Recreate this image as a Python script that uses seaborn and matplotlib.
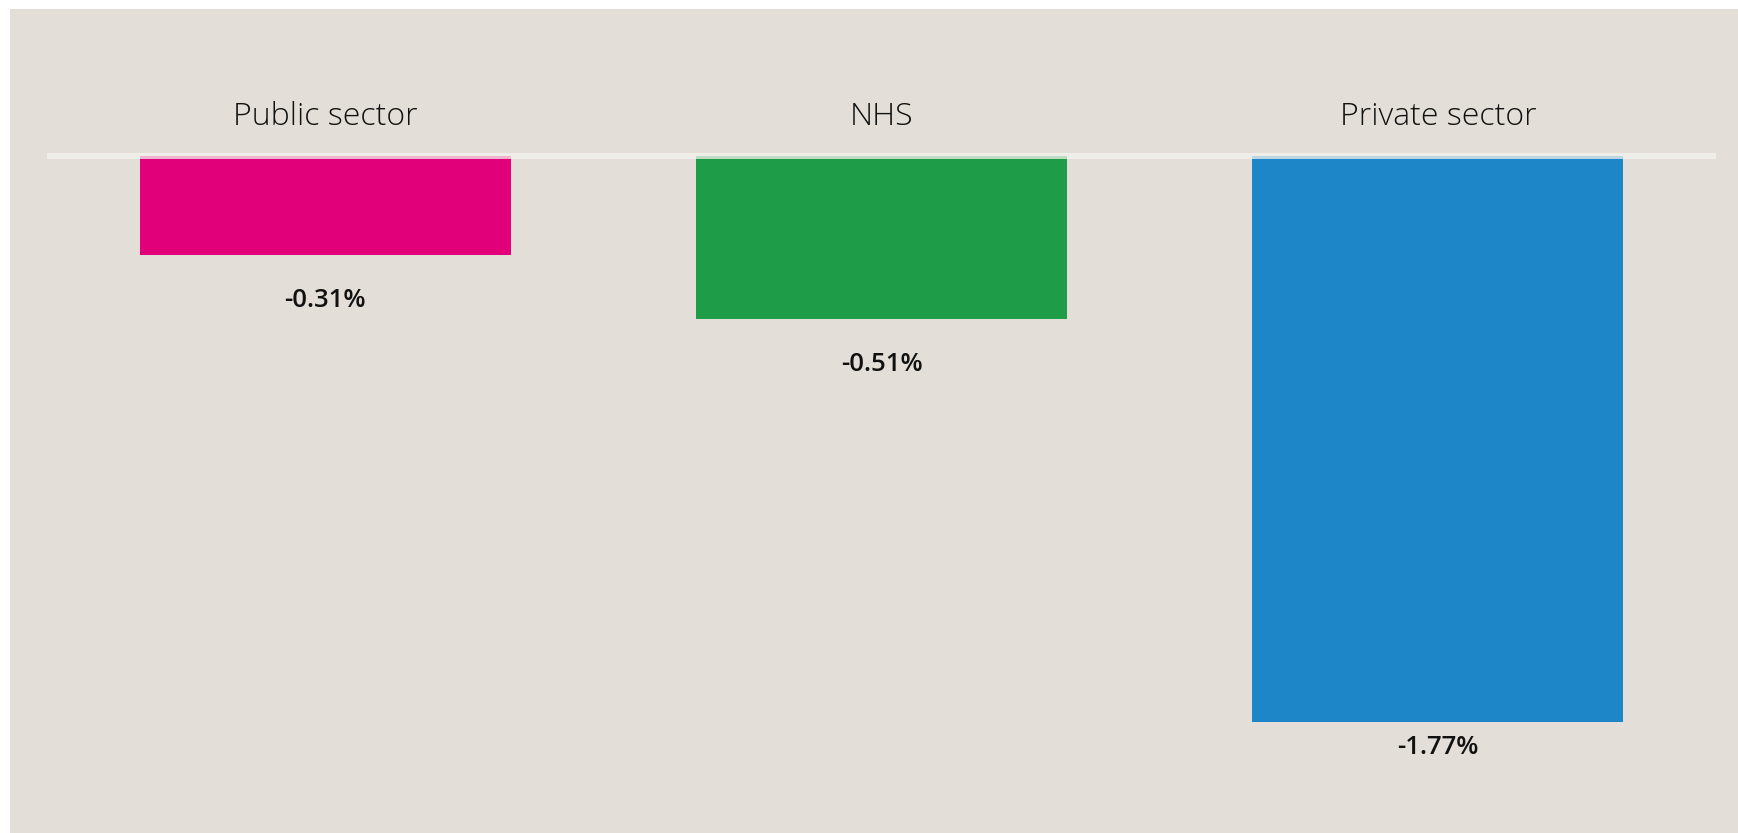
import matplotlib
matplotlib.use("Agg")
import matplotlib.pyplot as plt
import seaborn as sns
import pandas as pd
from matplotlib.patches import Rectangle

categories = ["Public sector", "NHS", "Private sector"]
values = [-0.31, -0.51, -1.77]
value_labels = ["-0.31%", "-0.51%", "-1.77%"]
colors = ["#E2007A", "#1E9C47", "#1D86C9"]

W, H = 1738, 833
BG = "#E3DFD8"

sns.set_theme(style="white")
plt.rcParams["font.family"] = ["Open Sans", "DejaVu Sans"]

fig = plt.figure(figsize=(W / 100, H / 100), dpi=100, facecolor="white")
fig.patches.append(Rectangle((10 / W, 0), 1 - 10 / W, 1 - 9 / H,
                             transform=fig.transFigure, facecolor=BG,
                             edgecolor="none", zorder=-10))

ax_left, ax_right = 47, 1716
ax = fig.add_axes([ax_left / W, 0, (ax_right - ax_left) / W, 1])
ax.set_facecolor("none")

df = pd.DataFrame({"category": categories, "value": values})
sns.barplot(data=df, x="category", y="value", hue="category",
            palette=colors, order=categories, hue_order=categories,
            width=0.667, saturation=1, legend=False, ax=ax, linewidth=0)

zero_px = 156
ppu = 320.0
ax.set_ylim(-(H - zero_px) / ppu, zero_px / ppu)
ax.set_xlim(-0.5, len(categories) - 0.5)

ax.axhline(0, color="#F4F2EE", linewidth=4.3, alpha=0.75, zorder=5)

for i, (cat, v, lab) in enumerate(zip(categories, values, value_labels)):
    ax.text(i, (zero_px - 125) / ppu, cat, ha="center", va="baseline",
            fontsize=23, fontweight="light", color="#111111")
    y = max(v - 52 / ppu, -(754 - zero_px) / ppu)
    ax.text(i, y, lab, ha="center", va="baseline", fontsize=18.5,
            fontweight="semibold", color="#111111")

ax.set_xlabel("")
ax.set_ylabel("")
ax.set_xticks([])
ax.set_yticks([])
for s in ax.spines.values():
    s.set_visible(False)

fig.savefig("out.png", dpi=100, facecolor="white")
